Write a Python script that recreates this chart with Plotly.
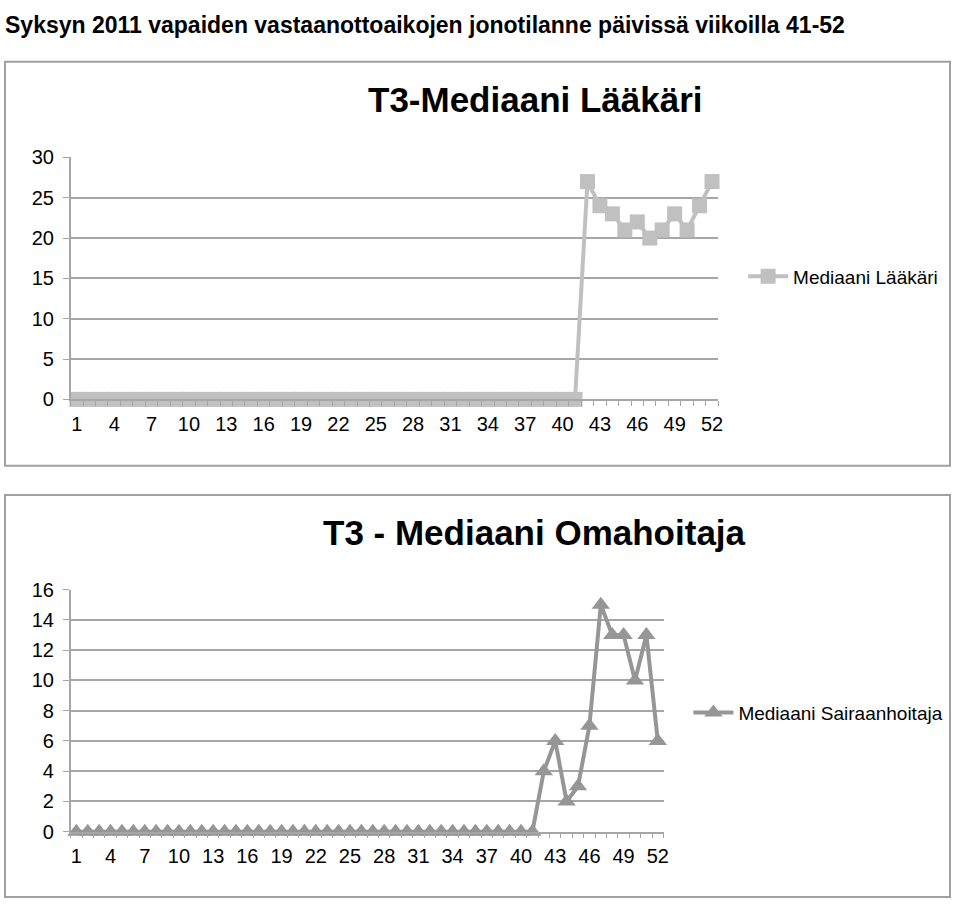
import plotly.graph_objects as go

weeks = list(range(1, 53))
laakari = [0, 0, 0, 0, 0, 0, 0, 0, 0, 0,
           0, 0, 0, 0, 0, 0, 0, 0, 0, 0,
           0, 0, 0, 0, 0, 0, 0, 0, 0, 0,
           0, 0, 0, 0, 0, 0, 0, 0, 0, 0,
           0, 27, 24, 23, 21, 22, 20, 21, 23, 21,
           24, 27]
omahoitaja = [0, 0, 0, 0, 0, 0, 0, 0, 0, 0,
              0, 0, 0, 0, 0, 0, 0, 0, 0, 0,
              0, 0, 0, 0, 0, 0, 0, 0, 0, 0,
              0, 0, 0, 0, 0, 0, 0, 0, 0, 0,
              0, 4, 6, 2, 3, 7, 15, 13, 13, 10,
              13, 6]
x_ticks = [1, 4, 7, 10, 13, 16, 19, 22, 25, 28, 31, 34, 37, 40, 43, 46, 49, 52]
y_ticks_top = [0, 5, 10, 15, 20, 25, 30]
y_ticks_bottom = [0, 2, 4, 6, 8, 10, 12, 14, 16]

W, H = 960, 911
FONT = "Liberation Sans, Arial, sans-serif"
GRID = "#a6a6a6"


def px(x):
    return x / W


def py(y):
    return 1 - y / H


fig = go.Figure()
fig.add_trace(go.Scatter(
    x=weeks, y=laakari, mode="lines+markers", name="Mediaani Lääkäri",
    line=dict(color="#c0c0c0", width=4),
    marker=dict(symbol="square", size=15, color="#c0c0c0"),
    cliponaxis=False, xaxis="x", yaxis="y", legend="legend", showlegend=True))
fig.add_trace(go.Scatter(
    x=weeks, y=omahoitaja, mode="lines+markers", name="Mediaani Sairaanhoitaja",
    line=dict(color="#969696", width=4),
    marker=dict(symbol="triangle-up", size=16, color="#969696"),
    cliponaxis=False, xaxis="x2", yaxis="y2", legend="legend2", showlegend=True))

xcommon = dict(range=[0.5, 52.5], tickmode="array", tickvals=x_ticks,
               ticktext=[str(v) for v in x_ticks], ticks="",
               showgrid=False, zeroline=False, showline=True,
               linecolor=GRID, linewidth=1.5,
               tickfont=dict(family=FONT, size=20, color="black"),
               ticklabelstandoff=6,
               minor=dict(ticks="outside", ticklen=5, tickcolor=GRID,
                          tickwidth=1, tick0=0.5, dtick=1, showgrid=False))
ycommon = dict(showgrid=True, gridcolor=GRID, gridwidth=1.5, zeroline=False,
               showline=True, linecolor=GRID, linewidth=1.5,
               ticks="outside", ticklen=6, tickcolor=GRID,
               tickfont=dict(family=FONT, size=20, color="black"),
               ticklabelstandoff=5)

legend_font = dict(family=FONT, size=19, color="black")

fig.update_layout(
    width=W, height=H, margin=dict(l=0, r=0, t=0, b=0),
    paper_bgcolor="white", plot_bgcolor="white", showlegend=True,
    xaxis=dict(domain=[px(71), px(722)], anchor="y", **xcommon),
    yaxis=dict(domain=[py(398), py(150)], anchor="x", range=[0, 30],
               tickvals=y_ticks_top, **ycommon),
    xaxis2=dict(domain=[px(71), px(667)], anchor="y2", **xcommon),
    yaxis2=dict(domain=[py(841), py(593)], anchor="x2", range=[0, 16],
                tickvals=y_ticks_bottom, **ycommon),
    legend=dict(x=px(747), y=py(272), xanchor="left", yanchor="middle",
                font=legend_font, itemwidth=40, visible=True,
                bgcolor="rgba(0,0,0,0)"),
    legend2=dict(x=px(692), y=py(719), xanchor="left", yanchor="middle",
                 font=legend_font, itemwidth=40, visible=True,
                 bgcolor="rgba(0,0,0,0)"),
    shapes=[
        dict(type="rect", xref="paper", yref="paper", x0=px(5), x1=px(955),
             y0=py(466), y1=py(52), line=dict(color="#a0a0a0", width=2)),
        dict(type="rect", xref="paper", yref="paper", x0=px(5), x1=px(955),
             y0=py(908), y1=py(496), line=dict(color="#a0a0a0", width=2)),
    ],
    annotations=[
        dict(text="<b>Syksyn 2011 vapaiden vastaanottoaikojen jonotilanne päivissä viikoilla 41-52</b>",
             xref="paper", yref="paper", x=px(3), y=py(-1), xanchor="left",
             yanchor="top", showarrow=False,
             font=dict(family=FONT, size=23, color="black")),
        dict(text="<b>T3-Mediaani Lääkäri</b>", xref="paper", yref="paper",
             x=px(538), y=py(91), xanchor="center", yanchor="middle",
             showarrow=False, font=dict(family=FONT, size=35, color="black")),
        dict(text="<b>T3 - Mediaani Omahoitaja</b>", xref="paper", yref="paper",
             x=px(537), y=py(534), xanchor="center", yanchor="middle",
             showarrow=False, font=dict(family=FONT, size=35, color="black")),
    ],
)

fig.write_html("out.html")
